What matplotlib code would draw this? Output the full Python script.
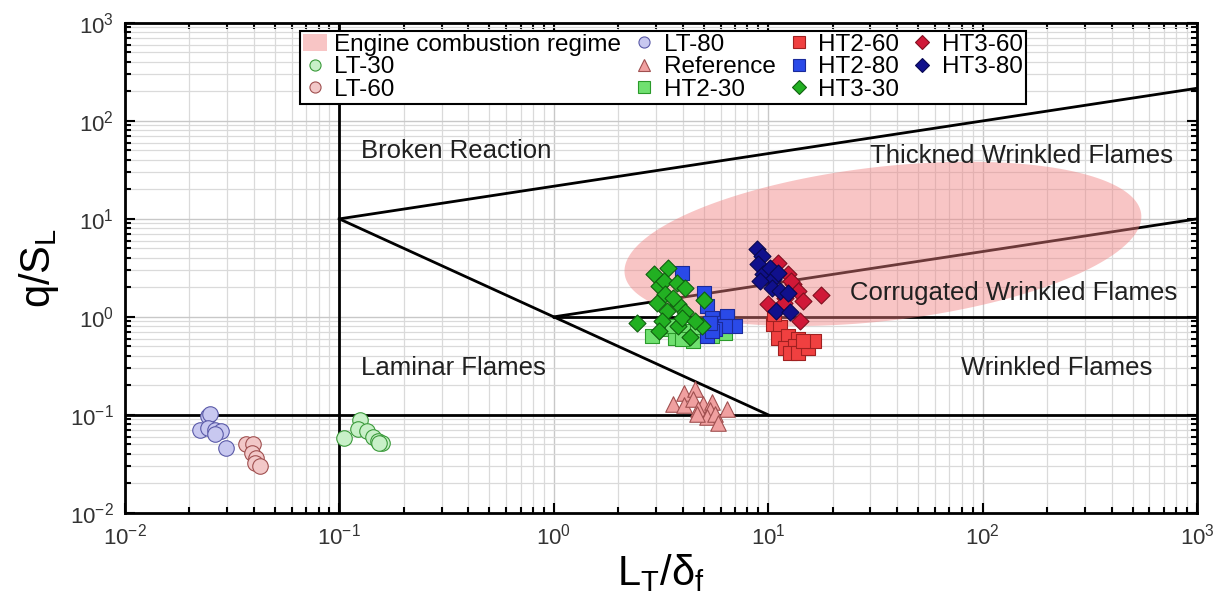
import numpy as np
import matplotlib
matplotlib.use("Agg")
import matplotlib.pyplot as plt
from matplotlib.patches import Patch
from matplotlib.lines import Line2D
from matplotlib.ticker import LogLocator, LogFormatterMathtext, NullFormatter

plt.rcParams['font.family'] = ['Liberation Sans', 'DejaVu Sans']
plt.rcParams['mathtext.fontset'] = 'custom'
plt.rcParams['mathtext.rm'] = 'Liberation Sans'
plt.rcParams['mathtext.it'] = 'Liberation Sans'
plt.rcParams['mathtext.default'] = 'regular'

# ---------------- data ----------------
lt80_x = [0.0243, 0.0250, 0.0223, 0.0245, 0.0262, 0.0280, 0.0262, 0.0297]
lt80_y = [0.098, 0.102, 0.070, 0.074, 0.070, 0.068, 0.064, 0.046]

lt30_x = [0.105, 0.125, 0.122, 0.135, 0.143, 0.151, 0.159, 0.153]
lt30_y = [0.058, 0.088, 0.071, 0.068, 0.059, 0.054, 0.052, 0.051]

lt60_x = [0.0368, 0.0395, 0.0390, 0.0410, 0.0405, 0.0425]
lt60_y = [0.0506, 0.0506, 0.0412, 0.0366, 0.0326, 0.0302]

ref_x = [4.07, 4.56, 3.61, 4.07, 4.48, 4.99, 5.45, 4.69, 5.35, 5.17, 5.65, 6.40, 5.85, 4.64]
ref_y = [0.169, 0.183, 0.129, 0.127, 0.145, 0.129, 0.134, 0.114, 0.112, 0.094, 0.102, 0.114, 0.083, 0.102]

ht2_30_x = [2.87, 3.37, 3.68, 4.24, 4.48, 4.64, 6.29, 5.45, 3.95, 3.55]
ht2_30_y = [0.64, 0.75, 0.615, 0.72, 0.57, 0.78, 0.69, 0.64, 0.59, 0.81]

ht2_60_x = [10.5, 11.3, 11.1, 12.4, 13.8, 12.0, 13.4, 12.6, 13.8, 15.3, 16.3, 14.6, 10.7]
ht2_60_y = [0.84, 0.78, 0.615, 0.64, 0.59, 0.486, 0.50, 0.43, 0.43, 0.486, 0.57, 0.57, 1.07]

ht2_80_x = [3.98, 5.04, 5.17, 5.45, 5.85, 6.40, 7.00, 6.29, 5.65, 5.17, 5.45, 5.35]
ht2_80_y = [2.83, 1.77, 1.29, 0.98, 0.875, 1.02, 0.81, 0.81, 0.75, 0.64, 0.72, 0.875]

ht3_30_x = [2.95, 3.40, 3.08, 3.25, 3.75, 4.10, 3.31, 3.02, 3.37, 3.81, 4.10, 5.04,
            2.44, 3.19, 3.11, 3.81, 4.32, 3.95, 4.90, 4.56, 3.61]
ht3_30_y = [2.77, 3.14, 2.07, 2.33, 2.24, 1.99, 1.71, 1.40, 1.15, 1.35, 1.11, 1.48,
            0.875, 0.91, 0.72, 0.81, 0.625, 0.98, 0.81, 0.91, 1.57]

ht3_60_x = [11.1, 12.4, 13.1, 13.8, 14.6, 17.7, 10.0, 12.0, 14.0, 12.8, 10.2, 11.8]
ht3_60_y = [3.58, 2.73, 2.16, 1.84, 1.46, 1.66, 1.35, 1.57, 0.91, 2.33, 3.06, 1.40]

ht3_80_x = [8.83, 9.31, 8.98, 9.48, 10.2, 10.5, 11.1, 9.15, 10.4, 10.9, 12.6, 11.3, 12.4]
ht3_80_y = [4.91, 4.19, 3.45, 2.73, 3.18, 2.43, 2.83, 2.33, 1.99, 1.15, 1.11, 1.84, 1.77]

# regime boundaries (Borghi diagram)
x_min, x_max = 1e-2, 1e3
y_min, y_max = 1e-2, 1e3

# engine combustion regime ellipse (log10 centre, semi-axes in pixels, tilt)
ell_logx, ell_logy = 1.535, 0.745
ell_a_px, ell_b_px, ell_tilt_deg = 260, 77, 6.6

# ---------------- figure ----------------
fig = plt.figure(figsize=(12.24, 6.04), dpi=100)
ax = fig.add_axes([0.102, 0.151, 0.876, 0.811])
ax.set_xscale('log')
ax.set_yscale('log')
ax.set_xlim(x_min, x_max)
ax.set_ylim(y_min, y_max)

# grid
ax.grid(True, which='major', color='#c8c8c8', lw=1.0, zorder=0)
ax.grid(True, which='minor', color='#dadada', lw=0.9, zorder=0)
ax.set_axisbelow(True)

# boundary lines
lw = 2.0
ax.plot([0.1, 0.1], [y_min, y_max], color='black', lw=lw, zorder=2)
ax.plot([x_min, x_max], [0.1, 0.1], color='black', lw=lw, zorder=2)
ax.plot([1, x_max], [1, 1], color='black', lw=lw, zorder=2)
xa = np.array([0.1, x_max])
ax.plot(xa, 10 * (xa / 0.1) ** (1 / 3), color='black', lw=lw, zorder=2)
xb = np.array([0.1, 10])
ax.plot(xb, 1.0 / xb, color='black', lw=lw, zorder=2)
xc = np.array([1, x_max])
ax.plot(xc, xc ** (1 / 3), color='black', lw=lw, zorder=2)

# ellipse
pos = ax.get_position()
W = fig.get_figwidth() * fig.dpi * pos.width
H = fig.get_figheight() * fig.dpi * pos.height
dec_x = W / np.log10(x_max / x_min)
dec_y = H / np.log10(y_max / y_min)
t = np.linspace(0, 2 * np.pi, 300)
th = np.deg2rad(ell_tilt_deg)
px = ell_a_px * np.cos(t) * np.cos(th) - ell_b_px * np.sin(t) * np.sin(th)
py = ell_a_px * np.cos(t) * np.sin(th) + ell_b_px * np.sin(t) * np.cos(th)
ex = 10 ** (ell_logx + px / dec_x)
ey = 10 ** (ell_logy + py / dec_y)
ell_color = '#f08080'
ax.fill(ex, ey, color=ell_color, alpha=0.45, lw=0, zorder=3)

# series
series = [
    ('LT-30', lt30_x, lt30_y, 'o', '#c8f0c8', '#3a9a3a', 125),
    ('LT-60', lt60_x, lt60_y, 'o', '#f2c8c8', '#a05050', 125),
    ('LT-80', lt80_x, lt80_y, 'o', '#c8c8f0', '#5a5aa8', 125),
    ('Reference', ref_x, ref_y, '^', '#f0a0a0', '#a05050', 125),
    ('HT2-30', ht2_30_x, ht2_30_y, 's', '#70e070', '#2a9a2a', 95),
    ('HT2-60', ht2_60_x, ht2_60_y, 's', '#f04040', '#a02020', 95),
    ('HT2-80', ht2_80_x, ht2_80_y, 's', '#2a4ae8', '#1a2a9a', 95),
    ('HT3-30', ht3_30_x, ht3_30_y, 'D', '#22b022', '#106010', 75),
    ('HT3-60', ht3_60_x, ht3_60_y, 'D', '#d01838', '#801020', 75),
    ('HT3-80', ht3_80_x, ht3_80_y, 'D', '#10108c', '#080850', 75),
]
styles = {}
for name, xs, ys, m, fc, ec, s in series:
    ax.scatter(xs, ys, marker=m, s=s, facecolor=fc, edgecolor=ec, linewidth=0.8, zorder=4)
    styles[name] = (m, fc, ec)

# region labels
fs = 18.5
tc = '#202020'
ax.text(0.1265, 49.4, 'Broken Reaction', fontsize=fs, ha='left', va='center', color=tc, zorder=5)
ax.text(29.8, 44, 'Thickned Wrinkled Flames', fontsize=fs, ha='left', va='center', color=tc, zorder=5)
ax.text(24.0, 1.76, 'Corrugated Wrinkled Flames', fontsize=fs, ha='left', va='center', color=tc, zorder=5)
ax.text(0.1265, 0.302, 'Laminar Flames', fontsize=fs, ha='left', va='center', color=tc, zorder=5)
ax.text(79, 0.302, 'Wrinkled Flames', fontsize=fs, ha='left', va='center', color=tc, zorder=5)

# legend
legend_order = ['LT-30', 'LT-60', 'LT-80', 'Reference', 'HT2-30', 'HT2-60', 'HT2-80', 'HT3-30', 'HT3-60', 'HT3-80']
handles = [Patch(facecolor=ell_color, alpha=0.45, edgecolor='none')]
labels = ['Engine combustion regime']
for name in legend_order:
    m, fc, ec = styles[name]
    ms = 8 if m != 'D' else 7
    handles.append(Line2D([], [], ls='none', marker=m, markersize=ms,
                          markerfacecolor=fc, markeredgecolor=ec, markeredgewidth=0.8))
    labels.append(name)
leg = ax.legend(handles, labels, ncol=4, loc='upper left', bbox_to_anchor=(0.163, 0.984),
                fontsize=17.5, frameon=True, fancybox=False, edgecolor='black',
                framealpha=1, labelspacing=0.02, handlelength=1.0, handletextpad=0.3,
                columnspacing=0.45, borderpad=0.12, borderaxespad=0)
leg.get_frame().set_linewidth(1.5)
leg.set_zorder(10)

# axes style
for sp in ax.spines.values():
    sp.set_linewidth(2.0)
ax.xaxis.set_major_locator(LogLocator(base=10, numticks=10))
ax.yaxis.set_major_locator(LogLocator(base=10, numticks=10))
ax.xaxis.set_minor_locator(LogLocator(base=10, subs=np.arange(2, 10), numticks=20))
ax.yaxis.set_minor_locator(LogLocator(base=10, subs=np.arange(2, 10), numticks=20))
ax.xaxis.set_major_formatter(LogFormatterMathtext())
ax.yaxis.set_major_formatter(LogFormatterMathtext())
ax.xaxis.set_minor_formatter(NullFormatter())
ax.yaxis.set_minor_formatter(NullFormatter())
ax.tick_params(which='both', direction='in', top=True, right=True, width=1.5, colors='black')
ax.tick_params(which='major', length=7, labelsize=16, pad=8)
ax.tick_params(which='minor', length=4)
for lab in ax.get_xticklabels() + ax.get_yticklabels():
    lab.set_color('#333333')

ax.set_xlabel(r'$L_T/\delta_f$', fontsize=30, labelpad=2)
ax.set_ylabel(r'$q/S_L$', fontsize=30, labelpad=6)

fig.savefig('out.png', dpi=100)
